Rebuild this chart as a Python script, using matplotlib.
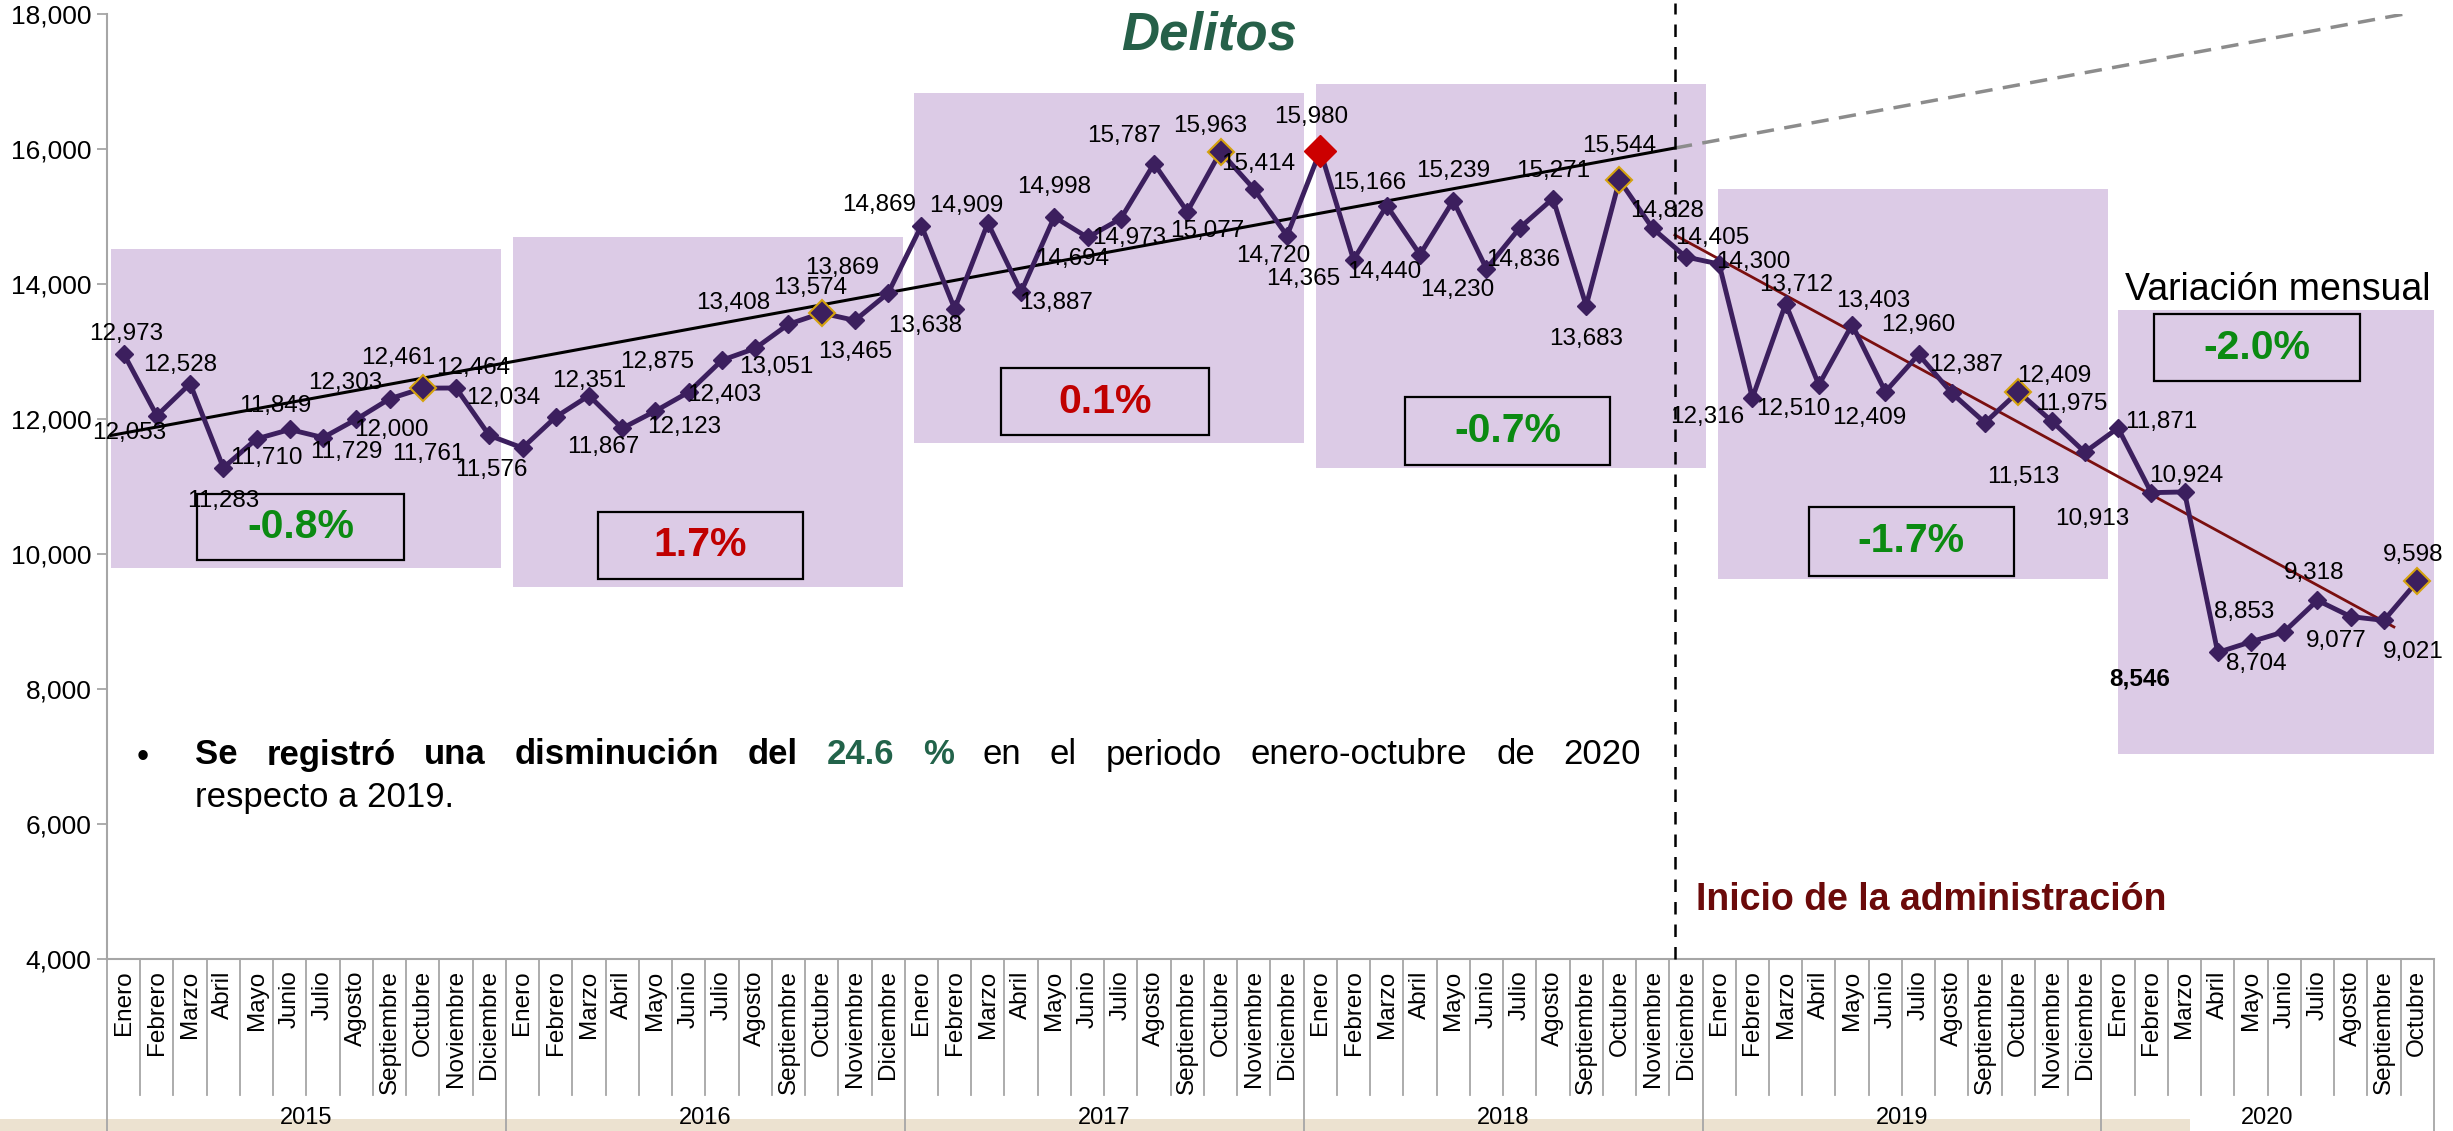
import matplotlib
matplotlib.use("Agg")
import matplotlib.pyplot as plt
from matplotlib.patches import Rectangle
from matplotlib.transforms import blended_transform_factory

plt.rcParams['font.family'] = ['Liberation Sans', 'DejaVu Sans']

# --- data ---
years = ["2015", "2016", "2017", "2018", "2019", "2020"]
months = ["Enero", "Febrero", "Marzo", "Abril", "Mayo", "Junio", "Julio",
          "Agosto", "Septiembre", "Octubre", "Noviembre", "Diciembre"]
months_per_year = [12, 12, 12, 12, 12, 10]

d2015 = [12973, 12053, 12528, 11283, 11710, 11849, 11729, 12000, 12303, 12461, 12464, 11761]
d2016 = [11576, 12034, 12351, 11867, 12123, 12403, 12875, 13051, 13408, 13574, 13465, 13869]
d2017 = [14869, 13638, 14909, 13887, 14998, 14694, 14973, 15787, 15077, 15963, 15414, 14720]
d2018 = [15980, 14365, 15166, 14440, 15239, 14230, 14836, 15271, 13683, 15544, 14828, 14405]
d2019 = [14300, 12316, 13712, 12510, 13403, 12409, 12960, 12387, 11950, 12409, 11975, 11513]
d2020 = [11871, 10913, 10924, 8546, 8704, 8853, 9318, 9077, 9021, 9598]
delitos = d2015 + d2016 + d2017 + d2018 + d2019 + d2020

year_change = ["-0.8%", "1.7%", "0.1%", "-0.7%", "-1.7%", "-2.0%"]

# trend lines (start value, end value)
trend_hist = [11761, 16019]
trend_proj_end = 18003
trend_admin = [14730, 8924]

# --- layout (pixels of the 2453x1131 image) ---
W, H = 2453, 1131
fig = plt.figure(figsize=(W / 100, H / 100), dpi=100)
ax = fig.add_axes([107 / W, 1 - 959.3 / H, 2326.8 / W, 945 / H])
ax.set_xlim(-0.5, 69.5)
ax.set_ylim(4000, 18000)
ax.patch.set_alpha(0)

def fx(px):
    return px / W

def fy(py):
    return 1 - py / H

x = list(range(len(delitos)))
purple = '#3c1f5e'
green = '#0b8a12'
red = '#c00000'

# year shading boxes: (x0, x1, y0, y1)
shade = [(-0.38, 11.35, 9797, 14523), (11.71, 23.44, 9522, 14707),
         (23.78, 35.51, 11652, 16837), (35.87, 47.60, 11277, 16967),
         (47.96, 59.70, 9637, 15415), (60.0, 69.6, 7041, 13619)]
for x0, x1, y0, y1 in shade:
    ax.add_patch(Rectangle((x0, y0), x1 - x0, y1 - y0, facecolor='#dccbe6',
                           edgecolor='none', zorder=1))

# percent boxes
pbox = [(2.21, 8.44, 9915, 10893), (14.27, 20.44, 9635, 10627),
        (26.40, 32.65, 11767, 12760), (38.55, 44.72, 11322, 12330),
        (50.70, 56.87, 9679, 10701), (61.08, 67.28, 12567, 13560)]
for (x0, x1, y0, y1), lab in zip(pbox, year_change):
    ax.add_patch(Rectangle((x0, y0), x1 - x0, y1 - y0, facecolor='none',
                           edgecolor='black', lw=1.6, zorder=6))
    ax.text((x0 + x1) / 2, (y0 + y1) / 2, lab, ha='center', va='center',
            fontsize=29.5, fontweight='bold',
            color=green if lab.startswith('-') else red, zorder=7)

ax.text(64.8, 13915, "Variación mensual", fontsize=27, ha='center', va='center', zorder=7)

# trend lines
x_admin = 46.67
ax.plot([-0.38, x_admin], trend_hist, color='black', lw=2.2, zorder=4)
ax.plot([x_admin, 68.6], [trend_hist[1], trend_proj_end], color='#8c8c8c', lw=2.5,
        ls=(0, (5, 3)), zorder=4)
ax.plot([x_admin, 68.3], trend_admin, color='#7a0f0f', lw=2, zorder=4)
ax.plot([x_admin, x_admin], [4000, 18170], color='black', lw=1.8, ls=(0, (5, 4)),
        zorder=4, clip_on=False)

# main series
ax.plot(x, delitos, color=purple, lw=3.5, marker='D', ms=9, zorder=5)
oct_idx = [i for i in x if i % 12 == 9]
ax.plot(oct_idx, [delitos[i] for i in oct_idx], 'D', ms=13, mfc=purple,
        mec='#d4a20e', mew=1.5, zorder=6, ls='none')
imax = delitos.index(max(delitos))
ax.plot([imax], [delitos[imax]], 'D', ms=16, color='#cc0000', zorder=6)

# data labels: offsets in pixels (dx, dy downward)
offs = [(3, -20), (-28, 17), (-10, -19), (0, 33), (10, 19), (-15, -23), (23, 14),
        (35, 11), (-44, -16), (-25, -30), (17, -20), (-61, 19),
        (-31, 22), (-52, -19), (0, -15), (-19, 19), (29, 16), (36, 3), (-65, 2),
        (21, 19), (-55, -21), (-11, -25), (0, 32), (-46, -25),
        (-42, -21), (-29, 17), (-22, -17), (35, 11), (0, -30), (-15, 22), (8, 19),
        (-30, -28), (20, 19), (-10, -26), (4, -25), (-14, 20),
        (-9, -34), (-50, 19), (-18, -23), (-36, 17), (0, -30), (-29, 21), (3, 32),
        (0, -28), (0, 33), (0, -34), (14, -17), (26, -19),
        (34, -2), (-45, 19), (11, -19), (-26, 24), (21, -24), (-16, 26), (0, -30),
        (14, -28), None, (36, -16), (20, -17), (-61, 25),
        (43, -6), (-59, 26), (2, -16), (-78, 27), (5, 22), (-40, -20), (-3, -27),
        (-14, 24), (29, 32), (-4, -26)]
imin = delitos.index(min(delitos))
for i, (v, o) in enumerate(zip(delitos, offs)):
    if o is None:
        continue
    ax.annotate(f"{v:,}", (i, v), xytext=(o[0], -o[1]), textcoords='offset pixels',
                ha='center', va='center', fontsize=17.5,
                fontweight='bold' if i == imin else 'normal', zorder=8)

# axes styling
for s in ['top', 'right']:
    ax.spines[s].set_visible(False)
for s in ['left', 'bottom']:
    ax.spines[s].set_color('#a6a6a6')
    ax.spines[s].set_linewidth(1.5)
ax.set_xticks([])
ax.set_yticks(range(4000, 18001, 2000))
ax.set_yticklabels([f"{t:,}" for t in range(4000, 18001, 2000)])
ax.tick_params(axis='y', length=7, color='#a6a6a6', width=1.3, labelsize=19, pad=4)

# category axis below
trans = blended_transform_factory(ax.transData, ax.transAxes)
bounds = [0]
for n in months_per_year:
    bounds.append(bounds[-1] + n)
for b in range(len(delitos) + 1):
    ybot = -0.182 if b in bounds else -0.144
    ax.plot([b - 0.5, b - 0.5], [0, ybot], transform=trans, color='#a6a6a6',
            lw=1.3, clip_on=False)
for i in x:
    ax.text(i, -11 / 945, months[i % 12], transform=trans, rotation=90,
            ha='center', va='top', fontsize=17.5)
for yr, b0, b1 in zip(years, bounds[:-1], bounds[1:]):
    ax.text((b0 + b1 - 1) / 2, -(1129 - 959.3) / 945, yr, transform=trans,
            ha='center', va='bottom', fontsize=17)

# texts
fig.text(fx(1209), fy(35), "Delitos", fontsize=38, fontweight='bold', fontstyle='italic',
         color='#266049', ha='center', va='center')
fig.text(fx(1696), fy(900), "Inicio de la administración", fontsize=27,
         fontweight='bold', color='#6b0a0a', ha='left', va='center')

fig.text(fx(143), fy(757), "•", fontsize=25, ha='center', va='center')
dkgreen = '#22634a'
words = [("Se", True, 'black'), ("registró", True, 'black'), ("una", True, 'black'),
         ("disminución", True, 'black'), ("del", True, 'black'), ("24.6", True, dkgreen),
         ("%", True, dkgreen), ("en", False, 'black'), ("el", False, 'black'),
         ("periodo", False, 'black'), ("enero-octubre", False, 'black'),
         ("de", False, 'black'), ("2020", False, 'black')]
arts = [fig.text(0, fy(755), w, fontsize=25, fontweight='bold' if b else 'normal',
                 color=c, ha='left', va='center') for w, b, c in words]
fig.text(fx(195), fy(797), "respecto a 2019.", fontsize=25, ha='left', va='center')
fig.canvas.draw()
r = fig.canvas.get_renderer()
widths = [t.get_window_extent(r).width for t in arts]
gap = (1641 - 195 - sum(widths)) / (len(arts) - 1)
pos = 195
for t, wd in zip(arts, widths):
    t.set_x(fx(pos))
    pos += wd + gap

# bottom band, kept beneath the axes and their labels
fig.patches.append(Rectangle((0, 0), fx(2190), 12 / H, transform=fig.transFigure,
                             facecolor='#ece2d0', edgecolor='none', zorder=-1))

fig.savefig('out.png', dpi=100)
